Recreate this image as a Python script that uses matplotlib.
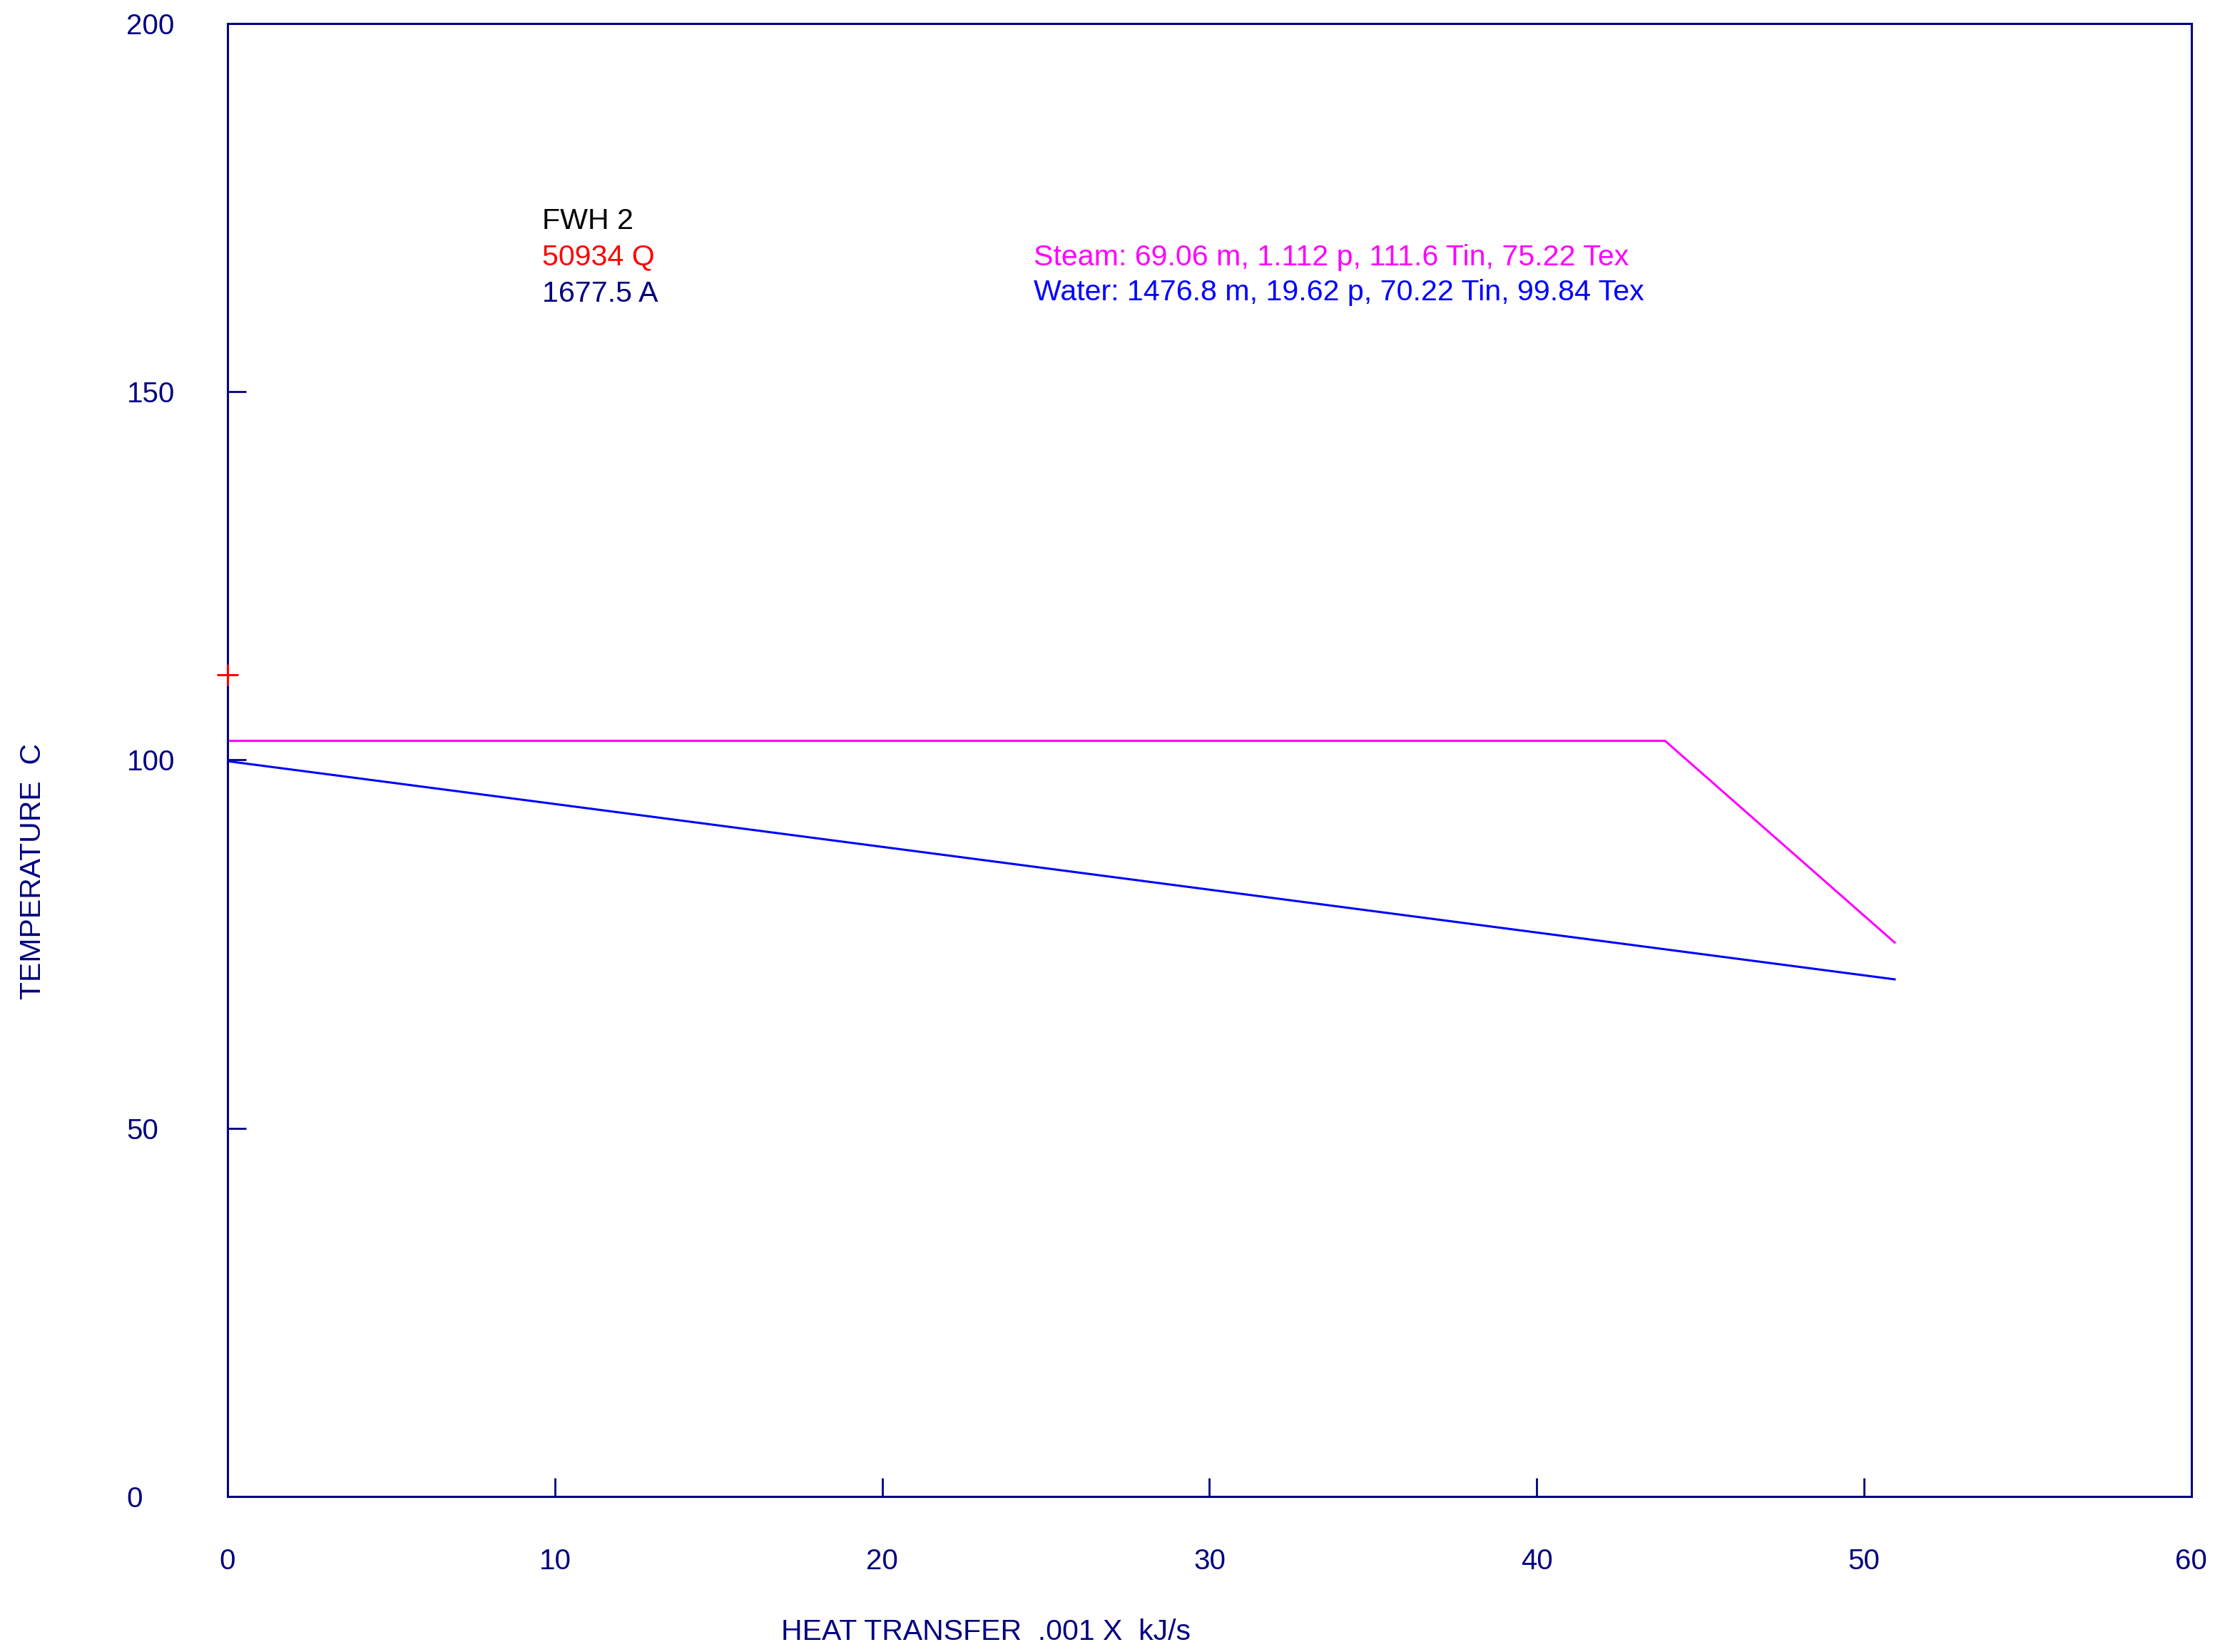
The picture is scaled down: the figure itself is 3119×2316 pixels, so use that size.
import matplotlib
matplotlib.use('Agg')
import matplotlib.pyplot as plt

# heat transfer (x .001 kJ/s) vs temperature (C)
steam_q = [0.0, 43.92, 50.934]
steam_t = [102.6, 102.6, 75.22]
water_q = [0.0, 50.934]
water_t = [99.84, 70.22]
steam_tin = 111.6

title = 'FWH 2'
q_text = '50934 Q'
a_text = '1677.5 A'
steam_text = 'Steam: 69.06 m, 1.112 p, 111.6 Tin, 75.22 Tex'
water_text = 'Water: 1476.8 m, 19.62 p, 70.22 Tin, 99.84 Tex'

xticks = [0, 10, 20, 30, 40, 50, 60]
yticks = [0, 50, 100, 150, 200]

navy = '#000080'
plt.rcParams['font.family'] = ['Liberation Sans', 'DejaVu Sans']

fig = plt.figure(figsize=(31.19, 23.16), dpi=100)
ax = fig.add_axes([0.1023, 0.0941, 0.8826, 0.8917])

ax.plot(steam_q, steam_t, color='#FF00FF', lw=2.2, solid_joinstyle='miter')
ax.plot(water_q, water_t, color='#0000FF', lw=2.2)
ax.plot([0], [steam_tin], marker='+', color='#FF0000', ms=21, mew=2.2,
        clip_on=False, zorder=5)

ax.set_xlim(0, 60)
ax.set_ylim(0, 200)
ax.set_xticks(xticks)
ax.set_yticks(yticks)
for s in ax.spines.values():
    s.set_color(navy)
    s.set_linewidth(2.2)
ax.tick_params(axis='both', direction='in', length=19, width=2.0,
               colors=navy, labelsize=29)
ax.tick_params(axis='x', pad=52)
ax.tick_params(axis='y', pad=102)
for lab in ax.get_yticklabels():
    lab.set_horizontalalignment('left')

fs = 29.6
ax.text(9.6, 172.1, title, color='black', fontsize=fs, va='baseline')
ax.text(9.6, 167.2, q_text, color='#FF0000', fontsize=fs, va='baseline')
ax.text(9.6, 162.2, a_text, color=navy, fontsize=fs, va='baseline')
ax.text(24.62, 167.2, steam_text, color='#FF00FF', fontsize=fs, va='baseline')
ax.text(24.62, 162.4, water_text, color='#0000FF', fontsize=fs, va='baseline')

fig.text(1382 / 3119, 1 - 2299 / 2316, 'HEAT TRANSFER  .001 X  kJ/s',
         color=navy, fontsize=29.5, ha='center', va='baseline')
fig.text(46 / 3119, 1 - 1222 / 2316, 'TEMPERATURE  C', color=navy,
         fontsize=29.5, ha='center', va='center', rotation=90)

fig.savefig('out.png', dpi=100, facecolor='white')
